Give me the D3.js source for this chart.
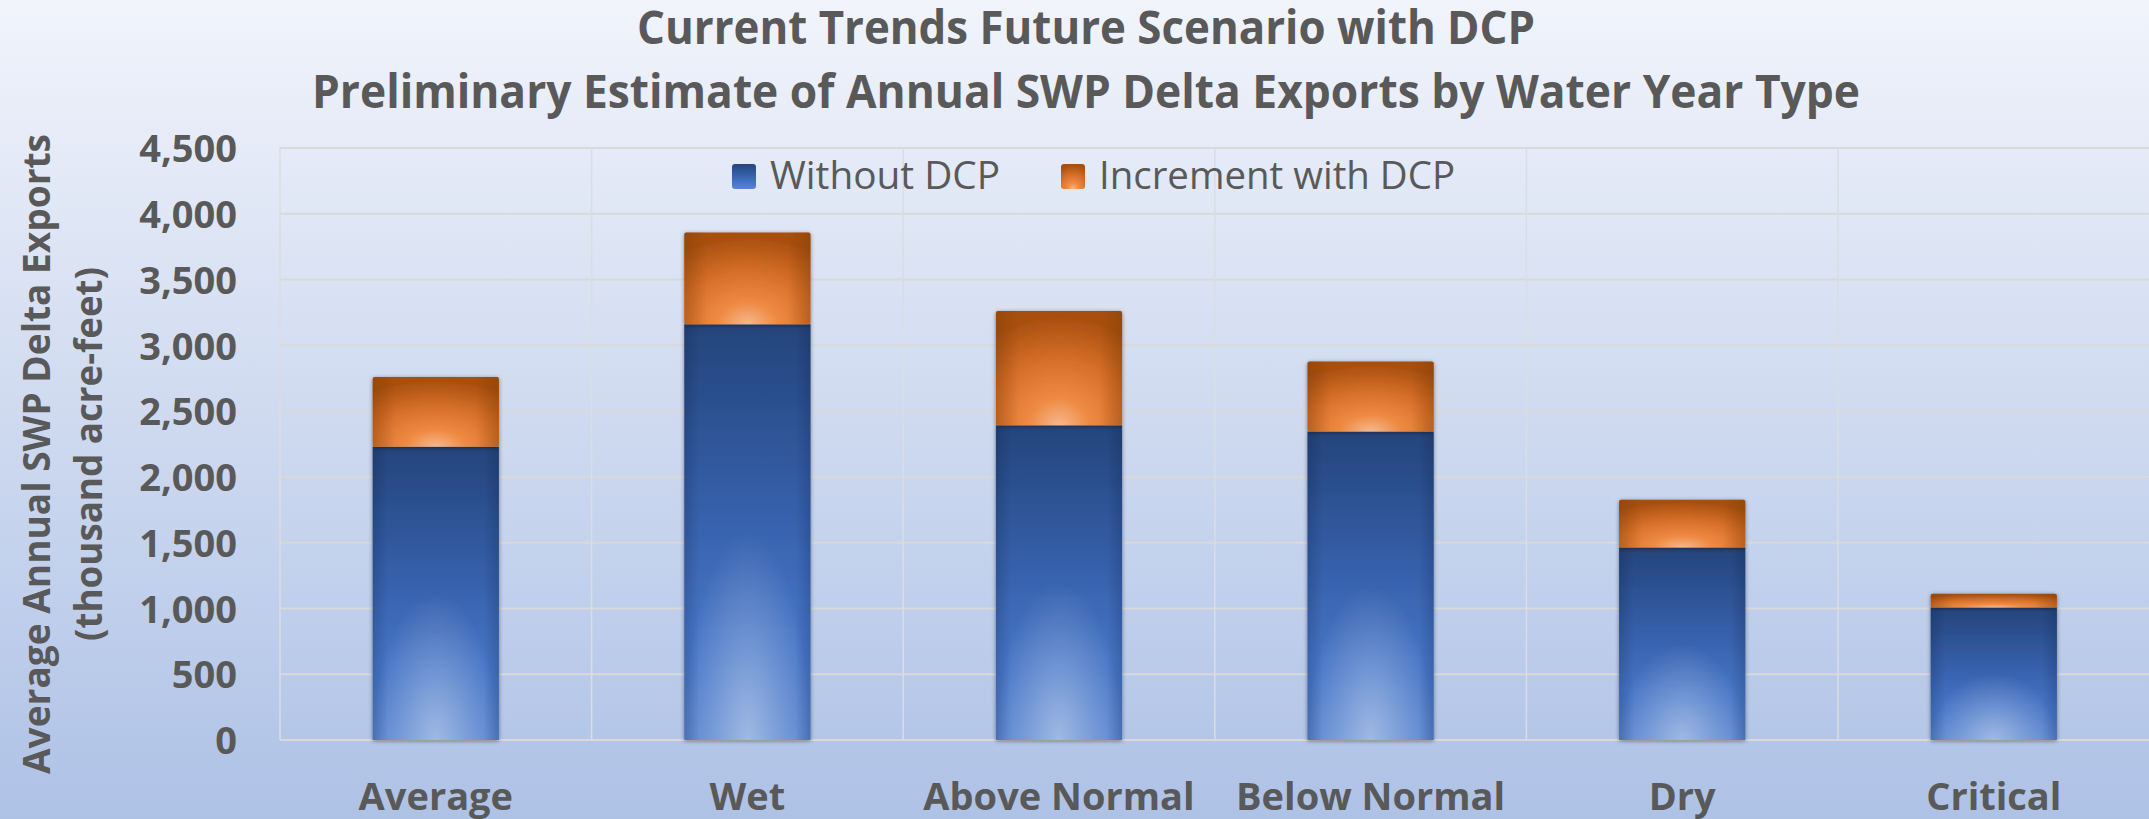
<!DOCTYPE html>
<html><head><meta charset="utf-8">
<script src="https://cdn.jsdelivr.net/npm/d3@7"></script>
<style>html,body{margin:0;padding:0;overflow:hidden;background:#fff} svg{display:block}</style>
</head><body>
<svg id="chart" width="2149" height="819"></svg>
<script>
// ---- data ----
const categories = ["Average", "Wet", "Above Normal", "Below Normal", "Dry", "Critical"];
const withoutDCP = [2230, 3160, 2392, 2345, 1464, 1008];
const incrementDCP = [530, 698, 869, 533, 363, 104];
const seriesNames = ["Without DCP", "Increment with DCP"];
const yTicks = [0, 500, 1000, 1500, 2000, 2500, 3000, 3500, 4000, 4500];
const titleLines = ["Current Trends Future Scenario with DCP",
                    "Preliminary Estimate of Annual SWP Delta Exports by Water Year Type"];
const yTitleLines = ["Average Annual SWP Delta Exports", "(thousand acre-feet)"];

// ---- layout ----
const W = 2149, H = 819;
const plot = {left: 280, right: 2149.6, top: 148, bottom: 740};
const textColor = "#595959";
const font = "'Open Sans', 'Noto Sans', sans-serif";

const svg = d3.select("#chart");
const defs = svg.append("defs");

function lin(id, dir, stops) {
  const g = defs.append("linearGradient").attr("id", id)
    .attr("x1", 0).attr("y1", 0).attr("x2", dir === "h" ? 1 : 0).attr("y2", dir === "h" ? 0 : 1);
  stops.forEach(s => g.append("stop").attr("offset", s[0]).attr("stop-color", s[1]).attr("stop-opacity", s[2] == null ? 1 : s[2]));
}
function rad(id, cx, cy, r, stops) {
  const g = defs.append("radialGradient").attr("id", id).attr("cx", cx).attr("cy", cy).attr("r", r);
  stops.forEach(s => g.append("stop").attr("offset", s[0]).attr("stop-color", s[1]).attr("stop-opacity", s[2] == null ? 1 : s[2]));
}
lin("bg", "v", [[0, "#f1f4fb"], [0.45, "#d3ddf1"], [1, "#aec2e6"]]);
lin("blueV", "v", [[0, "#25447b"], [0.45, "#3660aa"], [0.75, "#4775c6"], [1, "#5a86d0"]]);
rad("blueGlow", 0.5, 1.0, 0.5, [[0, "#ffffff", 0.42], [0.6, "#ffffff", 0.16], [1, "#ffffff", 0]]);
lin("edgeH", "h", [[0, "#001030", 0.18], [0.12, "#001030", 0], [0.88, "#001030", 0], [1, "#001030", 0.18]]);
rad("orange", 0.5, 1.0, 0.95, [[0, "#f6b88e"], [0.25, "#ef8a43"], [0.6, "#d66f29"], [1, "#a84f0f"]]);
lin("orangeEdge", "h", [[0, "#7a3a05", 0.35], [0.18, "#7a3a05", 0], [0.82, "#7a3a05", 0], [1, "#7a3a05", 0.35]]);

const f = defs.append("filter").attr("id", "shadow").attr("x", -0.2).attr("y", -0.2).attr("width", 1.4).attr("height", 1.4);
f.append("feDropShadow").attr("dx", 0).attr("dy", 1).attr("stdDeviation", 2.2)
  .attr("flood-color", "#000").attr("flood-opacity", 0.45);

// background
svg.append("rect").attr("width", W).attr("height", H).attr("fill", "url(#bg)");

// scales
const x = d3.scaleBand().domain(categories).range([plot.left, plot.right]).padding(0);
const y = d3.scaleLinear().domain([0, 4500]).range([plot.bottom, plot.top]);
const barW = x.bandwidth() * 0.405;

// gridlines
svg.append("g").selectAll("line.h").data(yTicks).join("line")
  .attr("x1", plot.left).attr("x2", W).attr("y1", d => y(d)).attr("y2", d => y(d))
  .attr("stroke", "#d9d9d9").attr("stroke-width", 2);
svg.append("g").selectAll("line.v").data(categories).join("line")
  .attr("x1", d => x(d)).attr("x2", d => x(d)).attr("y1", plot.top).attr("y2", plot.bottom)
  .attr("stroke", "#dadde3").attr("stroke-width", 1.5);

// stacked data
const rows = categories.map((c, i) => ({cat: c, a: withoutDCP[i], b: incrementDCP[i]}));
const stack = d3.stack().keys(["a", "b"])(rows);

const barsG = svg.append("g");
const blue = stack[0];
const orange = stack[1];
const bx = d => x(d.data.cat) + (x.bandwidth() - barW) / 2;

const gBlue = barsG.append("g");
gBlue.selectAll("rect.base").data(blue).join("rect")
  .attr("x", bx).attr("width", barW)
  .attr("y", d => y(d[1])).attr("height", d => y(d[0]) - y(d[1]))
  .attr("fill", "url(#blueV)").attr("filter", "url(#shadow)");
gBlue.selectAll("rect.glow").data(blue).join("rect")
  .attr("x", bx).attr("width", barW)
  .attr("y", d => y(d[1])).attr("height", d => y(d[0]) - y(d[1]))
  .attr("fill", "url(#blueGlow)");
gBlue.selectAll("rect.edge").data(blue).join("rect")
  .attr("x", bx).attr("width", barW)
  .attr("y", d => y(d[1])).attr("height", d => y(d[0]) - y(d[1]))
  .attr("fill", "url(#edgeH)");

const gOr = barsG.append("g");
gOr.selectAll("rect.base").data(orange).join("rect")
  .attr("x", bx).attr("width", barW)
  .attr("y", d => y(d[1])).attr("height", d => y(d[0]) - y(d[1]))
  .attr("rx", 2)
  .attr("fill", "url(#orange)").attr("filter", "url(#shadow)");
gOr.selectAll("rect.edge").data(orange).join("rect")
  .attr("x", bx).attr("width", barW)
  .attr("y", d => y(d[1])).attr("height", d => y(d[0]) - y(d[1]))
  .attr("rx", 2)
  .attr("fill", "url(#orangeEdge)");

function fit(sel, w) {
  sel.each(function() {
    const L = this.getComputedTextLength();
    if (Math.abs(L - w) > 2) d3.select(this).attr("textLength", w).attr("lengthAdjust", "spacingAndGlyphs");
  });
}

// y axis
const yAxis = svg.append("g").attr("transform", `translate(237,0)`)
  .call(d3.axisLeft(y).tickValues(yTicks).tickSize(0).tickPadding(0).tickFormat(d3.format(",")));
yAxis.select(".domain").remove();
yAxis.selectAll("text").attr("font-family", font).attr("font-weight", "bold")
  .attr("font-size", 38).attr("fill", textColor).attr("dy", "0.36em");

// x axis
const xAxis = svg.append("g").attr("transform", `translate(0,${plot.bottom})`)
  .call(d3.axisBottom(x).tickSize(0));
xAxis.select(".domain").remove();
xAxis.selectAll("text").attr("font-family", font).attr("font-weight", "bold")
  .attr("font-size", 38).attr("fill", textColor).attr("y", 70).attr("dy", 0);

// titles
const titleY = [44, 108];
const titleW = [898, 1548];
titleLines.forEach((t, i) => {
  svg.append("text").attr("x", 1086).attr("y", titleY[i]).attr("text-anchor", "middle")
    .attr("font-family", font).attr("font-weight", "bold").attr("font-size", 46)
    .attr("fill", textColor).text(t).call(fit, titleW[i]);
});

// y title
const yTitleX = [50, 102];
const yTitleW = [640, 374];
yTitleLines.forEach((t, i) => {
  svg.append("text").attr("transform", `translate(${yTitleX[i]},454) rotate(-90)`)
    .attr("text-anchor", "middle").attr("font-family", font).attr("font-weight", "bold")
    .attr("font-size", 38).attr("fill", textColor).text(t).call(fit, yTitleW[i]);
});

// legend
const legX = [732, 1061];
const legTextW = [230, 356];
const legFill = ["url(#blueV)", "url(#orange)"];
const leg = svg.append("g").selectAll("g").data(seriesNames).join("g");
leg.append("rect").attr("x", (d, i) => legX[i]).attr("y", 164).attr("width", 24).attr("height", 25)
  .attr("rx", 3).attr("fill", (d, i) => legFill[i]);
leg.append("text").attr("x", (d, i) => legX[i] + 38).attr("y", 189)
  .attr("font-family", font).attr("font-size", 38).attr("fill", textColor)
  .text(d => d).each(function(d, i) { fit(d3.select(this), legTextW[i]); });
</script>
</body></html>
